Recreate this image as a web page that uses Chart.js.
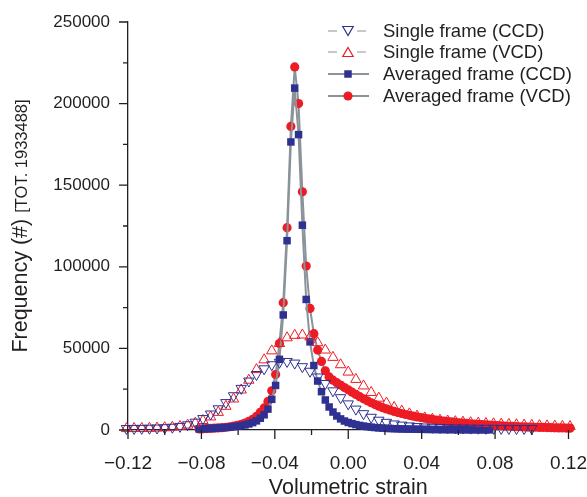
<!DOCTYPE html>
<html>
<head>
<meta charset="utf-8">
<script src="https://cdn.jsdelivr.net/npm/chart.js@4"></script>
<style>
  html, body { margin: 0; padding: 0; background: #fff; }
</style>
</head>
<body>
<canvas id="myChartLine" width="587" height="497"></canvas>
<script>
// strain bin positions (single frame: 60 bins, averaged: 120 bins over -0.125..0.125)
const singleStrain = [-0.12500, -0.12083, -0.11667, -0.11250, -0.10833, -0.10417, -0.10000, -0.09583, -0.09167, -0.08750,
  -0.08333, -0.07917, -0.07500, -0.07083, -0.06667, -0.06250, -0.05833, -0.05417, -0.05000, -0.04583,
  -0.04167, -0.03750, -0.03333, -0.02917, -0.02500, -0.02083, -0.01667, -0.01250, -0.00833, -0.00417,
  0.00000, 0.00417, 0.00833, 0.01250, 0.01667, 0.02083, 0.02500, 0.02917, 0.03333, 0.03750,
  0.04167, 0.04583, 0.05000, 0.05417, 0.05833, 0.06250, 0.06667, 0.07083, 0.07500, 0.07917,
  0.08333, 0.08750, 0.09167, 0.09583, 0.10000, 0.10417, 0.10833, 0.11250, 0.11667, 0.12083];

const avgStrain = [-0.08125, -0.07917, -0.07708, -0.07500, -0.07292, -0.07083, -0.06875, -0.06667, -0.06458, -0.06250,
  -0.06042, -0.05833, -0.05625, -0.05417, -0.05208, -0.05000, -0.04792, -0.04583, -0.04375, -0.04167,
  -0.03958, -0.03750, -0.03542, -0.03333, -0.03125, -0.02917, -0.02708, -0.02500, -0.02292, -0.02083,
  -0.01875, -0.01667, -0.01458, -0.01250, -0.01042, -0.00833, -0.00625, -0.00417, -0.00208, 0.00000,
  0.00208, 0.00417, 0.00625, 0.00833, 0.01042, 0.01250, 0.01458, 0.01667, 0.01875, 0.02083,
  0.02292, 0.02500, 0.02708, 0.02917, 0.03125, 0.03333, 0.03542, 0.03750, 0.03958, 0.04167,
  0.04375, 0.04583, 0.04792, 0.05000, 0.05208, 0.05417, 0.05625, 0.05833, 0.06042, 0.06250,
  0.06458, 0.06667, 0.06875, 0.07083, 0.07292, 0.07500, 0.07708, 0.07917, 0.08125, 0.08333,
  0.08542, 0.08750, 0.08958, 0.09167, 0.09375, 0.09583, 0.09792, 0.10000, 0.10208, 0.10417,
  0.10625, 0.10833, 0.11042, 0.11250, 0.11458, 0.11667, 0.11875, 0.12083];

// frequencies
const singleCcd = [900, 900, 950, 1000, 1100, 1200, 1400, 1700, 2200, 3200,
  4800, 7000, 9800, 13000, 16800, 21000, 25500, 30000, 34000, 37500,
  40000, 41500, 42000, 41000, 38800, 36000, 32500, 28500, 24000, 19800,
  16000, 12800, 10000, 7800, 6000, 4700, 3700, 3000, 2500, 2100,
  1850, 1650, 1500, 1400, 1300, 1200, 1150, 1100, 1050, 1000,
  950, 950, 900, 900, 900];

const singleVcd = [800, 850, 900, 950, 1050, 1200, 1400, 1700, 2200, 3000,
  4200, 5800, 8000, 10800, 14500, 19000, 24500, 30500, 37000, 43000,
  48500, 53000, 56500, 58000, 58200, 57000, 53500, 49000, 44500, 40000,
  35500, 31000, 27000, 23000, 19500, 16500, 13800, 11600, 9900, 8500,
  7400, 6600, 6000, 5500, 5100, 4800, 4500, 4250, 4000, 3800,
  3600, 3400, 3200, 3000, 2850, 2700, 2550, 2400, 2250, 2100];

const avgCcd = [700, 800, 900, 1000, 1100, 1250, 1400, 1550, 1750, 2000,
  2300, 2650, 3100, 3700, 4500, 5600, 7200, 9300, 12800, 18800,
  27300, 43300, 70500, 116000, 176500, 209500, 181000, 125500, 80000, 54000,
  39500, 30000, 23500, 18400, 14100, 11000, 8600, 6800, 5500, 4600,
  3900, 3300, 2800, 2400, 2050, 1750, 1500, 1300, 1150, 1000,
  900, 800, 720, 650, 600, 550, 500, 460, 420, 390,
  360, 330, 300, 280, 260, 240, 220, 200, 190, 180,
  170, 160, 150, 140, 130, 120, 110];

const avgVcd = [650, 750, 850, 950, 1100, 1250, 1450, 1700, 2000, 2400,
  2900, 3500, 4300, 5300, 6600, 8300, 10800, 13500, 17500, 24000,
  34000, 53000, 78000, 124000, 186000, 222500, 200000, 146000, 100500, 74500,
  59000, 49000, 42000, 36300, 32500, 30500, 29000, 27500, 26000, 24600,
  23200, 21800, 20400, 19100, 17900, 16700, 15600, 14600, 13700, 12900,
  12100, 11400, 10700, 10100, 9500, 9000, 8500, 8000, 7600, 7200,
  6800, 6450, 6100, 5800, 5500, 5200, 4950, 4700, 4450, 4200,
  4000, 3800, 3600, 3400, 3250, 3100, 2950, 2800, 2650, 2500,
  2400, 2300, 2200, 2100, 2000, 1900, 1800, 1750, 1700, 1600,
  1550, 1500, 1400, 1350, 1300, 1250, 1200, 1150];

const seriesNames = ['Single frame (CCD)', 'Single frame (VCD)', 'Averaged frame (CCD)', 'Averaged frame (VCD)'];
const xTicks = [-0.12, -0.08, -0.04, 0.00, 0.04, 0.08, 0.12];
const yTicks = [0, 50000, 100000, 150000, 200000, 250000];

const BLUE = '#2e3192';
const RED = '#ed1c24';
const GREY = '#8b939a';
const INK = '#231f20';
const FONT = '"Liberation Sans", Arial, sans-serif';

const toXY = (xs, ys) => ys.map((y, i) => ({ x: xs[i], y: y }));

// minor/major tick marks pointing outwards, plus axis titles
const tickMarks = {
  id: 'tickMarks',
  afterDraw(chart) {
    const ctx = chart.ctx;
    const xs = chart.scales.x, ys = chart.scales.y;
    const a = chart.chartArea;
    ctx.save();
    ctx.strokeStyle = INK;
    ctx.lineWidth = 1.3;
    ctx.beginPath();
    for (let i = 0; i < xTicks.length; i++) {
      const px = xs.getPixelForValue(xTicks[i]);
      ctx.moveTo(px, a.bottom); ctx.lineTo(px, a.bottom + 9);
      if (i < xTicks.length - 1) {
        const mx = xs.getPixelForValue((xTicks[i] + xTicks[i + 1]) / 2);
        ctx.moveTo(mx, a.bottom); ctx.lineTo(mx, a.bottom + 5);
      }
    }
    for (let i = 0; i < yTicks.length; i++) {
      const py = ys.getPixelForValue(yTicks[i]);
      ctx.moveTo(a.left, py); ctx.lineTo(a.left - 9, py);
      if (i < yTicks.length - 1) {
        const my = ys.getPixelForValue((yTicks[i] + yTicks[i + 1]) / 2);
        ctx.moveTo(a.left, my); ctx.lineTo(a.left - 5, my);
      }
    }
    ctx.stroke();

    ctx.fillStyle = INK;
    ctx.textAlign = 'center';
    ctx.textBaseline = 'alphabetic';
    ctx.font = '21.5px ' + FONT;
    ctx.fillText('Volumetric strain', (a.left + a.right) / 2, 494);

    const big = 'Frequency (#) ', small = '[TOT. 1933488]';
    ctx.font = '21.5px ' + FONT;
    const wBig = ctx.measureText(big).width;
    ctx.font = '16.5px ' + FONT;
    const wSmall = ctx.measureText(small).width;
    ctx.translate(27, (a.top + a.bottom) / 2);
    ctx.rotate(-Math.PI / 2);
    ctx.textAlign = 'left';
    const start = -(wBig + wSmall) / 2;
    ctx.font = '21.5px ' + FONT;
    ctx.fillText(big, start, 0);
    ctx.font = '16.5px ' + FONT;
    ctx.fillText(small, start + wBig, 0);
    ctx.restore();
  }
};

// legend: line - marker - line, then label
const lineLegend = {
  id: 'lineLegend',
  afterDraw(chart) {
    const ctx = chart.ctx;
    const rows = [31, 52, 74, 96];
    ctx.save();
    chart.data.datasets.forEach((ds, i) => {
      const y = rows[i];
      const single = i < 2;
      ctx.strokeStyle = GREY;
      ctx.lineWidth = single ? 1.2 : 2;
      ctx.beginPath();
      if (single) {
        ctx.moveTo(328, y); ctx.lineTo(337, y);
        ctx.moveTo(357, y); ctx.lineTo(366, y);
      } else {
        ctx.moveTo(328, y); ctx.lineTo(369, y);
      }
      ctx.stroke();
      ctx.fillStyle = ds.pointBackgroundColor;
      ctx.strokeStyle = ds.pointBorderColor;
      Chart.helpers.drawPoint(ctx, {
        pointStyle: ds.pointStyle,
        radius: ds.pointRadius,
        rotation: ds.pointRotation || 0,
        borderWidth: ds.pointBorderWidth
      }, 348, y + (ds.pointStyle === 'triangle' ? (ds.pointRotation ? -1.5 : 1.5) : 0));
      ctx.fillStyle = INK;
      ctx.font = '18.5px ' + FONT;
      ctx.textAlign = 'left';
      ctx.textBaseline = 'middle';
      ctx.fillText(seriesNames[i], 383, y + 1);
    });
    ctx.restore();
  }
};

const ctxLine = document.getElementById('myChartLine');

new Chart(ctxLine, {
  type: 'scatter',
  data: {
    datasets: [
      {
        label: seriesNames[0],
        data: toXY(singleStrain, singleCcd),
        showLine: false,
        pointStyle: 'triangle',
        pointRotation: 180,
        pointRadius: 6,
        pointBorderWidth: 1,
        pointBorderColor: BLUE,
        pointBackgroundColor: 'rgba(0,0,0,0)',
        clip: false
      },
      {
        label: seriesNames[1],
        data: toXY(singleStrain, singleVcd),
        showLine: false,
        pointStyle: 'triangle',
        pointRadius: 6,
        pointBorderWidth: 1,
        pointBorderColor: RED,
        pointBackgroundColor: 'rgba(0,0,0,0)',
        clip: false
      },
      {
        label: seriesNames[2],
        data: toXY(avgStrain, avgCcd),
        showLine: true,
        borderColor: GREY,
        borderWidth: 2,
        pointStyle: 'rect',
        pointRadius: 5.3,
        pointBorderWidth: 0,
        pointBorderColor: BLUE,
        pointBackgroundColor: BLUE,
        clip: false
      },
      {
        label: seriesNames[3],
        data: toXY(avgStrain, avgVcd),
        showLine: true,
        borderColor: GREY,
        borderWidth: 2,
        pointStyle: 'circle',
        pointRadius: 4.6,
        pointBorderWidth: 0,
        pointBorderColor: RED,
        pointBackgroundColor: RED,
        clip: false
      }
    ]
  },
  options: {
    responsive: false,
    animation: false,
    devicePixelRatio: 1,
    layout: { padding: { top: 22, right: 18.5, bottom: 0, left: 0 } },
    plugins: {
      legend: { display: false },
      tooltip: { enabled: false }
    },
    scales: {
      x: {
        type: 'linear',
        afterBuildTicks: s => {
          s.min = -0.12;
          s.max = 0.12;
          s.ticks = xTicks.map(v => ({ value: v }));
        },
        afterFit: s => { s.height = 67; s.paddingLeft = 0; s.paddingRight = 0; },
        grid: { display: false },
        border: { display: true, color: INK, width: 1.3 },
        ticks: {
          autoSkip: false,
          maxRotation: 0,
          padding: 14,
          color: INK,
          font: { family: FONT, size: 19 },
          callback: v => (v < 0 ? '\u2212' : '') + Math.abs(v).toFixed(2)
        }
      },
      y: {
        type: 'linear',
        min: 0,
        max: 250000,
        afterBuildTicks: s => { s.ticks = yTicks.map(v => ({ value: v })); },
        afterFit: s => { s.width = 128; s.paddingTop = 0; s.paddingBottom = 0; },
        grid: { display: false },
        border: { display: true, color: INK, width: 1.3 },
        ticks: {
          padding: 10,
          color: INK,
          font: { family: FONT, size: 17 },
          callback: v => String(v)
        }
      }
    }
  },
  plugins: [tickMarks, lineLegend]
});
</script>
</body>
</html>
